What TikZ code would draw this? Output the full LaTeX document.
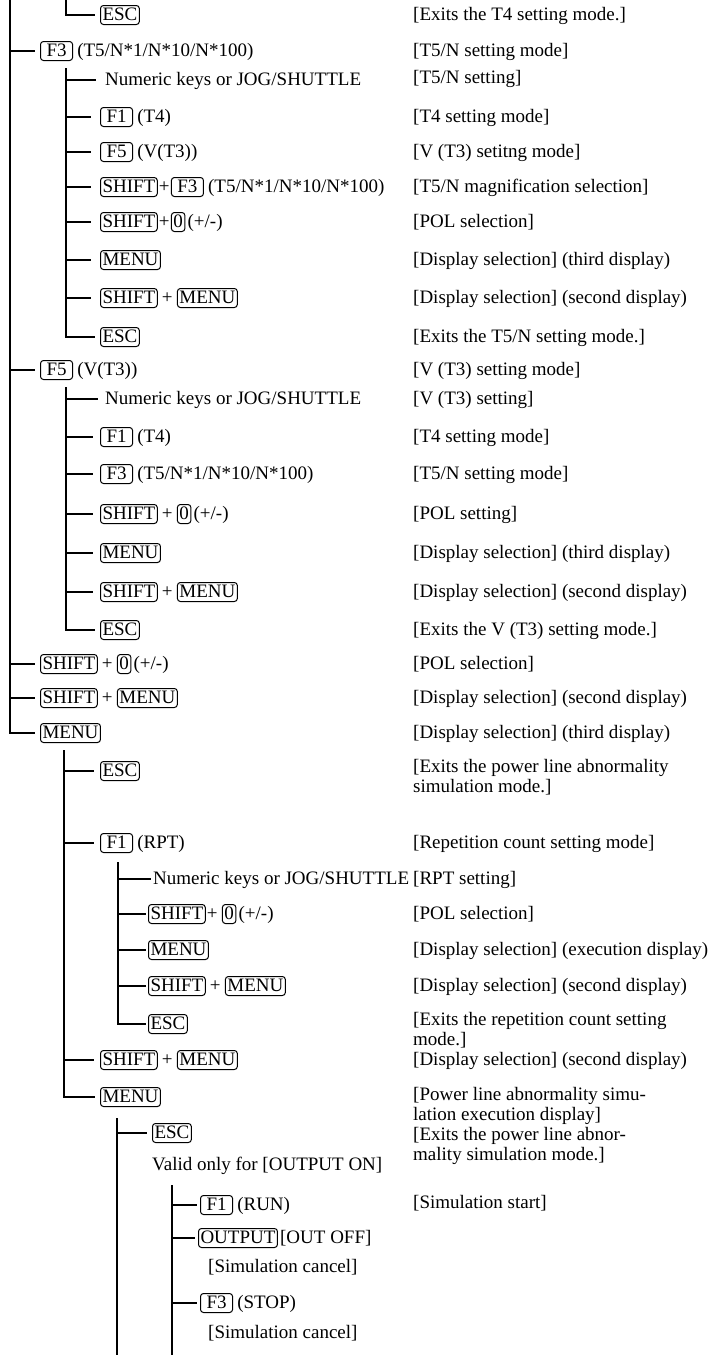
\documentclass[tikz,border=0pt]{standalone}
\usepackage{fontspec}
\setmainfont{Liberation Serif}
\usetikzlibrary{positioning}
\tikzset{
  key/.style={draw,rounded corners=3pt,line width=1pt,inner xsep=2pt,inner ysep=2pt,text height=13pt,text depth=2pt},
  fkey/.style={key,inner xsep=6pt},
  word/.style={inner sep=0pt,text height=13pt,text depth=2pt},
  note/.style={word,anchor=west},
  branch/.style={line width=1.3pt},
}
\begin{document}
\begin{tikzpicture}[x=1pt,y=-1pt,node distance=4pt,font=\fontsize{19}{22}\selectfont]
  \useasboundingbox (0,0) rectangle (715,1355);
  % tops of the vertical lines
  \coordinate (t0) at (10,0);   \coordinate (t1) at (66,0);
  \coordinate (t2) at (66,68);  \coordinate (t3) at (66,387);
  \coordinate (t4) at (64,750); \coordinate (t5) at (118,862);
  \coordinate (t6) at (117,1118); \coordinate (t7) at (172,1185);
  \coordinate (b6) at (117,1355); \coordinate (b7) at (172,1355);

  % end of the T4 branch
  \node[key,anchor=west] (esc1) at (100,15) {ESC};
  \node[note] (n1) at (413,15) {[Exits the T4 setting mode.]};

  % F3 branch
  \node[fkey,anchor=west] (f3a) at (40,51) {F3};
  \node[word,right=of f3a] (f3at) {(T5/N*1/N*10/N*100)};
  \node[note] (n2) at (413,51) {[T5/N setting mode]};
  \node[word,anchor=west] (num1) at (105,80) {Numeric keys or JOG/SHUTTLE};
  \node[note] (n3) at (413,78) {[T5/N setting]};
  \node[fkey,anchor=west] (f1a) at (100,117) {F1};
  \node[word,right=of f1a] (f1at) {(T4)};
  \node[note] (n4) at (413,117) {[T4 setting mode]};
  \node[fkey,anchor=west] (f5a) at (100,152) {F5};
  \node[word,right=of f5a] (f5at) {(V(T3))};
  \node[note] (n5) at (413,152) {[V (T3) setitng mode]};
  \node[key,anchor=west] (sha) at (100,187) {SHIFT};
  \node[word,right=1pt of sha] (pla) {+};
  \node[fkey,right=1pt of pla] (f3b) {F3};
  \node[word,right=of f3b] (f3bt) {(T5/N*1/N*10/N*100)};
  \node[note] (n6) at (413,187) {[T5/N magnification selection]};
  \node[key,anchor=west] (shb) at (100,222) {SHIFT};
  \node[word,right=1pt of shb] (plb) {+};
  \node[key,right=1pt of plb] (zra) {0};
  \node[word,right=2pt of zra] (zrat) {(+/-)};
  \node[note] (n7) at (413,222) {[POL selection]};
  \node[key,anchor=west] (mna) at (100,260) {MENU};
  \node[note] (n8) at (413,260) {[Display selection] (third display)};
  \node[key,anchor=west] (shc) at (100,298) {SHIFT};
  \node[word,right=of shc] (plc) {+};
  \node[key,right=of plc] (mnb) {MENU};
  \node[note] (n9) at (413,298) {[Display selection] (second display)};
  \node[key,anchor=west] (esc2) at (100,337) {ESC};
  \node[note] (n10) at (413,337) {[Exits the T5/N setting mode.]};

  % F5 branch
  \node[fkey,anchor=west] (f5b) at (40,370) {F5};
  \node[word,right=of f5b] (f5bt) {(V(T3))};
  \node[note] (n11) at (413,370) {[V (T3) setting mode]};
  \node[word,anchor=west] (num2) at (105,399) {Numeric keys or JOG/SHUTTLE};
  \node[note] (n12) at (413,399) {[V (T3) setting]};
  \node[fkey,anchor=west] (f1b) at (100,437) {F1};
  \node[word,right=of f1b] (f1bt) {(T4)};
  \node[note] (n13) at (413,437) {[T4 setting mode]};
  \node[fkey,anchor=west] (f3c) at (100,474) {F3};
  \node[word,right=of f3c] (f3ct) {(T5/N*1/N*10/N*100)};
  \node[note] (n14) at (413,474) {[T5/N setting mode]};
  \node[key,anchor=west] (shd) at (100,514) {SHIFT};
  \node[word,right=of shd] (pld) {+};
  \node[key,right=of pld] (zrb) {0};
  \node[word,right=2pt of zrb] (zrbt) {(+/-)};
  \node[note] (n15) at (413,514) {[POL setting]};
  \node[key,anchor=west] (mnc) at (100,553) {MENU};
  \node[note] (n16) at (413,553) {[Display selection] (third display)};
  \node[key,anchor=west] (she) at (100,592) {SHIFT};
  \node[word,right=of she] (ple) {+};
  \node[key,right=of ple] (mnd) {MENU};
  \node[note] (n17) at (413,592) {[Display selection] (second display)};
  \node[key,anchor=west] (esc3) at (100,630) {ESC};
  \node[note] (n18) at (413,630) {[Exits the V (T3) setting mode.]};

  % rest of the first level
  \node[key,anchor=west] (shf) at (40,664) {SHIFT};
  \node[word,right=of shf] (plf) {+};
  \node[key,right=of plf] (zrc) {0};
  \node[word,right=2pt of zrc] (zrct) {(+/-)};
  \node[note] (n19) at (413,664) {[POL selection]};
  \node[key,anchor=west] (shg) at (40,698) {SHIFT};
  \node[word,right=of shg] (plg) {+};
  \node[key,right=of plg] (mne) {MENU};
  \node[note] (n20) at (413,698) {[Display selection] (second display)};
  \node[key,anchor=west] (mnf) at (40,733) {MENU};
  \node[note] (n21) at (413,733) {[Display selection] (third display)};

  % power line abnormality simulation
  \node[key,anchor=west] (esc4) at (100,771) {ESC};
  \node[note] (n22) at (413,767) {[Exits the power line abnormality};
  \node[note] (n22b) at (413,787) {simulation mode.]};
  \node[fkey,anchor=west] (f1c) at (100,843) {F1};
  \node[word,right=of f1c] (f1ct) {(RPT)};
  \node[note] (n23) at (413,843) {[Repetition count setting mode]};
  \node[word,anchor=west] (num3) at (153,879) {Numeric keys or JOG/SHUTTLE};
  \node[note] (n24) at (413,879) {[RPT setting]};
  \node[key,anchor=west] (shh) at (148,914) {SHIFT};
  \node[word,right=1pt of shh] (plh) {+};
  \node[key,right=of plh] (zrd) {0};
  \node[word,right=2pt of zrd] (zrdt) {(+/-)};
  \node[note] (n25) at (413,914) {[POL selection]};
  \node[key,anchor=west] (mng) at (148,950) {MENU};
  \node[note] (n26) at (413,950) {[Display selection] (execution display)};
  \node[key,anchor=west] (shi) at (148,986) {SHIFT};
  \node[word,right=of shi] (pli) {+};
  \node[key,right=of pli] (mnh) {MENU};
  \node[note] (n27) at (413,986) {[Display selection] (second display)};
  \node[key,anchor=west] (esc5) at (148,1024) {ESC};
  \node[note] (n28) at (413,1020) {[Exits the repetition count setting};
  \node[note] (n28b) at (413,1040) {mode.]};
  \node[key,anchor=west] (shj) at (100,1060) {SHIFT};
  \node[word,right=of shj] (plj) {+};
  \node[key,right=of plj] (mni) {MENU};
  \node[note] (n29) at (413,1060) {[Display selection] (second display)};
  \node[key,anchor=west] (mnj) at (100,1097) {MENU};
  \node[note] (n30) at (413,1095) {[Power line abnormality simu-};
  \node[note] (n30b) at (413,1115) {lation execution display]};
  \node[key,anchor=west] (esc6) at (152,1133) {ESC};
  \node[note] (n31) at (413,1135) {[Exits the power line abnor-};
  \node[note] (n31b) at (413,1155) {mality simulation mode.]};
  \node[word,anchor=west] (valid) at (152,1165) {Valid only for [OUTPUT ON]};
  \node[fkey,anchor=west] (f1d) at (200,1205) {F1};
  \node[word,right=of f1d] (f1dt) {(RUN)};
  \node[note] (n33) at (413,1203) {[Simulation start]};
  \node[key,anchor=west] (outp) at (198,1238) {OUTPUT};
  \node[word,right=2pt of outp] (outpt) {[OUT OFF]};
  \node[word,anchor=west] (sim1) at (208,1267) {[Simulation cancel]};
  \node[fkey,anchor=west] (f3d) at (200,1303) {F3};
  \node[word,right=of f3d] (f3dt) {(STOP)};
  \node[word,anchor=west] (sim2) at (208,1333) {[Simulation cancel]};

  % tree lines
  \draw[branch] (t0) |- ([xshift=-5pt]mnf.west);
  \foreach \n in {f3a,f5b,shf,shg} \draw[branch] (t0 |- \n.west) -- ([xshift=-5pt]\n.west);
  \draw[branch] (t1) |- ([xshift=-5pt]esc1.west);
  \draw[branch] (t2) |- ([xshift=-5pt]esc2.west);
  \foreach \n in {num1,f1a,f5a,sha,shb,mna,shc} \draw[branch] (t2 |- \n.west) -- ([xshift=-9pt]\n.west);
  \draw[branch] (t3) |- ([xshift=-5pt]esc3.west);
  \foreach \n in {num2,f1b,f3c,shd,mnc,she} \draw[branch] (t3 |- \n.west) -- ([xshift=-7pt]\n.west);
  \draw[branch] (t4) |- ([xshift=-5pt]mnj.west);
  \foreach \n in {esc4,f1c,shj} \draw[branch] (t4 |- \n.west) -- ([xshift=-6pt]\n.west);
  \draw[branch] (t5) |- ([xshift=-2pt]esc5.west);
  \foreach \n in {num3,shh,mng,shi} \draw[branch] (t5 |- \n.west) -- ([xshift=-2pt]\n.west);
  \draw[branch] (t6) -- (b6);
  \draw[branch] (t6 |- esc6.west) -- ([xshift=-5pt]esc6.west);
  \draw[branch] (t7) -- (b7);
  \foreach \n in {f1d,outp,f3d} \draw[branch] (t7 |- \n.west) -- ([xshift=-3pt]\n.west);
\end{tikzpicture}
\end{document}
